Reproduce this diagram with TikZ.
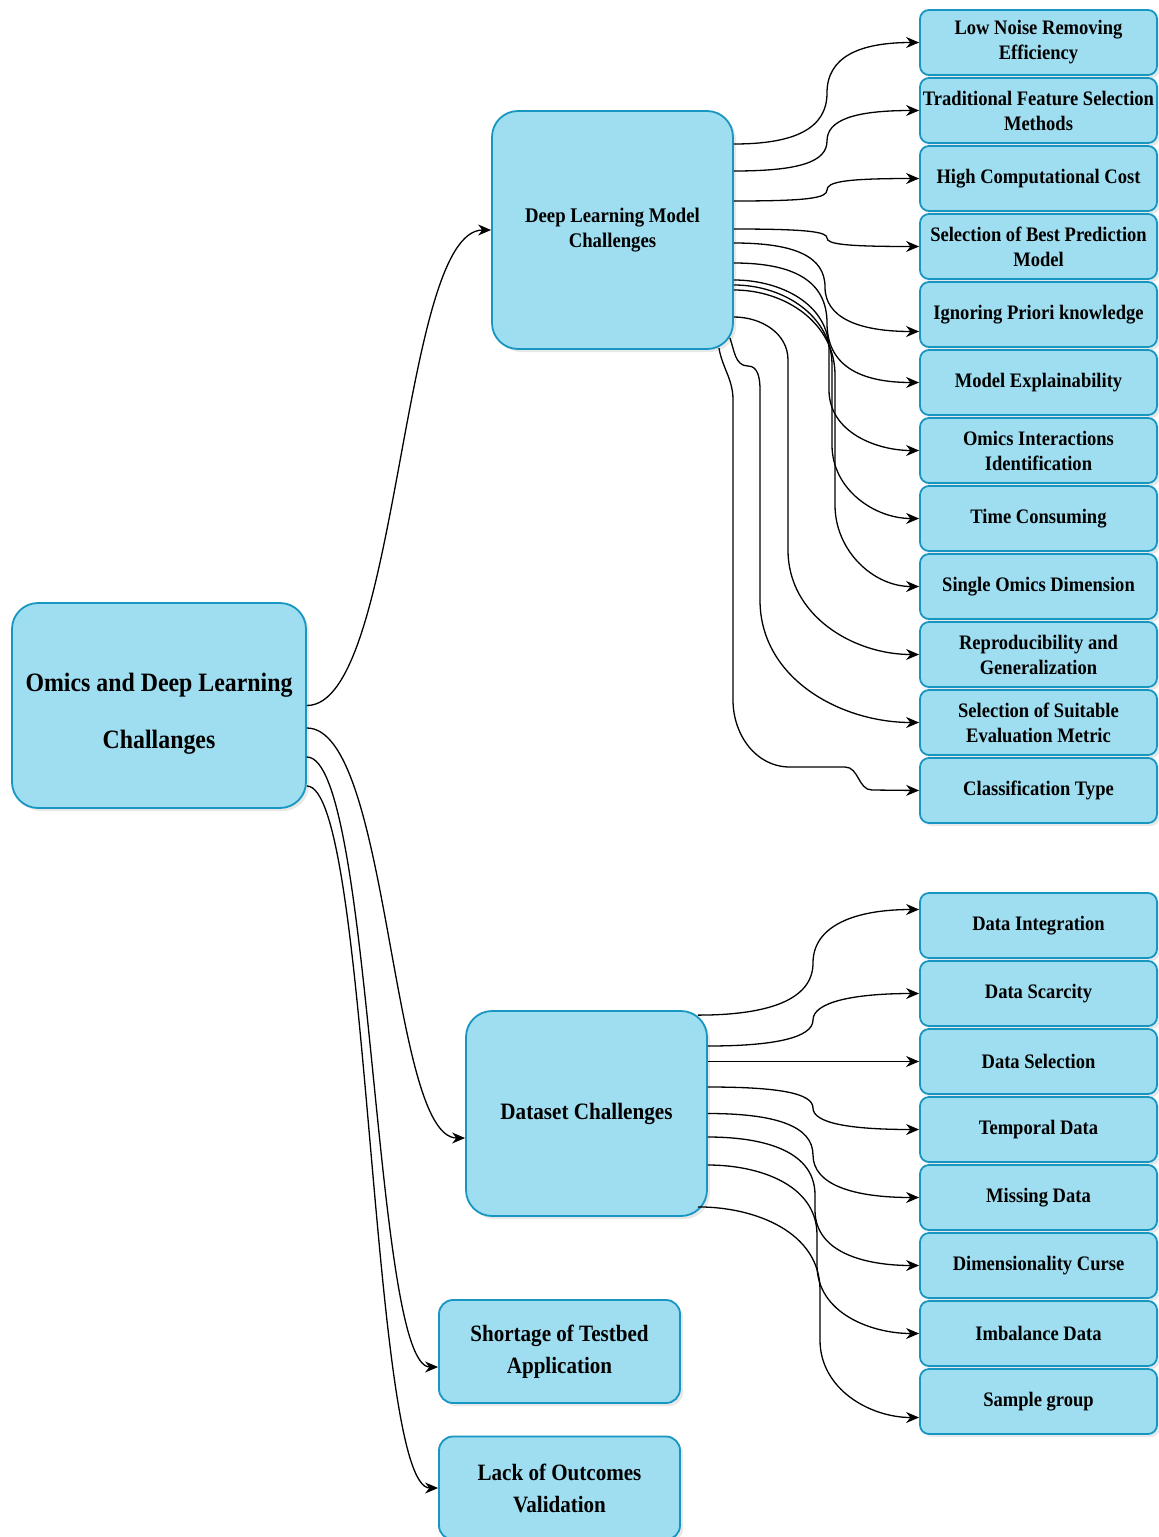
\documentclass[tikz,border=0pt]{standalone}
\usepackage{fontspec}
\setmainfont{Liberation Serif}[FakeStretch=0.9]
\usetikzlibrary{arrows.meta,calc,shadows}
\definecolor{boxfill}{RGB}{158,222,240}
\definecolor{boxline}{RGB}{22,150,192}

\begin{document}
\begin{tikzpicture}[x=1pt,y=-1pt,
    box/.style={draw=boxline, fill=boxfill, line width=1.8pt, align=center, inner sep=0pt,
        drop shadow={shadow xshift=3pt, shadow yshift=-3pt, opacity=0.18}},
    leaf/.style={box, rounded corners=9pt, minimum width=237pt, minimum height=65pt,
        font=\fontsize{20.6}{25}\selectfont\bfseries},
    hub/.style={box, rounded corners=26pt, minimum width=241pt},
    side/.style={box, rounded corners=14pt, minimum width=241pt, minimum height=103pt,
        font=\fontsize{23.4}{32}\selectfont\bfseries},
    link/.style={-{Stealth[length=13pt,width=11pt]}, line width=1.3pt}]
    \useasboundingbox (0,0) rectangle (1159,1537);

    \node[box, rounded corners=26pt, minimum width=294pt, minimum height=205pt,
        font=\fontsize{26.5}{57}\selectfont\bfseries] (root) at (159,705.5)
        {\rule{0pt}{34pt}Omics and Deep Learning\\Challanges};
    \node[hub, minimum height=238pt, font=\fontsize{20.8}{25}\selectfont\bfseries] (dl) at (612.5,230)
        {Deep Learning Model\\Challenges};
    \node[hub, minimum height=205pt, font=\fontsize{23.5}{28}\selectfont\bfseries] (ds) at (586.5,1113.5)
        {Dataset Challenges};
    \node[side] (short) at (559.5,1351.5) {Shortage of Testbed\\Application};
    \node[side] (lack) at (559.5,1488) {Lack of Outcomes\\Validation};

    \foreach \nm/\txt [count=\i from 0] in {low/{Low Noise Removing\\Efficiency},
        trad/{Traditional Feature Selection\\Methods}, cost/{High Computational Cost},
        best/{Selection of Best Prediction\\Model}, prior/{Ignoring Priori knowledge},
        expl/{Model Explainability}, inter/{Omics Interactions\\Identification},
        time/{Time Consuming}, single/{Single Omics Dimension},
        repro/{Reproducibility and\\Generalization},
        metric/{Selection of Suitable\\Evaluation Metric}, ctype/{Classification Type}} {
        \node[leaf] (\nm) at (1038.5,42.5+68*\i) {\txt};
    }
    \foreach \nm/\txt [count=\i from 0] in {integ/{Data Integration}, scarce/{Data Scarcity},
        dsel/{Data Selection}, temporal/{Temporal Data}, missing/{Missing Data},
        dimcurse/{Dimensionality Curse}, imbal/{Imbalance Data}, sample/{Sample group}} {
        \node[leaf] (\nm) at (1038.5,925.5+68*\i) {\txt};
    }

    % root to the four groups
    \draw[link] (root.east) .. controls (400,705.5) and (400,230) .. (dl.west);
    \draw[link] ($(root.east)+(0,22.5)$) .. controls (390,728) and (390,1138) .. ($(ds.west)+(0,24.5)$);
    \draw[link] ($(root.east)+(0,51.5)$) .. controls (373,757) and (373,1367) .. ($(short.west)+(0,15.5)$);
    \draw[link] ($(root.east)+(0,80.5)$) .. controls (370,786) and (370,1488) .. (lack.west);

    % deep learning model challenges
    \draw[link] ($(dl.east)+(0,-86)$) .. controls +(60,0) and +(0,36) .. (827,93)
        .. controls +(0,-36) and +(-60,0) .. (low.west);
    \draw[link] ($(dl.east)+(0,-59)$) .. controls +(65,0) and +(0,21) .. (827,141)
        .. controls +(0,-21) and +(-65,0) .. (trad.west);
    \draw[link] ($(dl.east)+(0,-29)$) .. controls +(75,0) and +(0,8) .. (827,190)
        .. controls +(0,-8) and +(-75,0) .. (cost.west);
    \draw[link] ($(dl.east)+(0,-1)$) .. controls +(75,0) and +(0,-6) .. (827,238)
        .. controls +(0,6) and +(-75,0) .. (best.west);
    \draw[link] ($(dl.east)+(0,13)$) .. controls +(60,0) and +(0,-31) .. (825,287)
        .. controls +(0,31) and +(-60,0) .. ($(prior.west)+(0,17)$);
    \draw[link] ($(dl.east)+(0,33)$) .. controls +(60,0) and +(0,-42) .. (827,323)
        .. controls +(0,42) and +(-60,0) .. (expl.west);
    \draw[link] ($(dl.east)+(0,50)$) to[out=0,in=90] (829,350) -- (829,390) to[out=-90,in=180] (inter.west);
    \draw[link] ($(dl.east)+(0,55)$) to[out=0,in=90] (832,365) -- (832,445) to[out=-90,in=180] (time.west);
    \draw[link] ($(dl.east)+(0,60)$) to[out=0,in=90] (835,375) -- (835,505) to[out=-90,in=180] (single.west);
    \draw[link] ($(dl.east)+(0,87)$) to[out=0,in=90] (788,360) -- (788,550) to[out=-90,in=180] (repro.west);
    \draw[link] ($(dl.south east)+(-4,-12)$) to[out=-70,in=180] (748,366) to[out=0,in=90] (760,390)
        -- (760,600) to[out=-90,in=180] (metric.west);
    \draw[link] ($(dl.south east)+(-15,-2)$) to[out=-80,in=90] (733,400) -- (733,700)
        to[out=-90,in=180] (790,767) -- (845,767) to[out=0,in=180] (872,790) -- (ctype.west);

    % dataset challenges
    \draw[link] ($(ds.north east)+(-10,5)$) .. controls +(70,0) and +(0,37) .. (813,963)
        .. controls +(0,-37) and +(-65,0) .. ($(integ.west)+(0,-16)$);
    \draw[link] ($(ds.east)+(0,-67.5)$) .. controls +(65,0) and +(0,18) .. (813,1020)
        .. controls +(0,-18) and +(-65,0) .. (scarce.west);
    \draw[link] ($(ds.east)+(0,-52)$) -- (dsel.west);
    \draw[link] ($(ds.east)+(0,-26.5)$) .. controls +(70,0) and +(0,-15) .. (813,1108)
        .. controls +(0,15) and +(-70,0) .. (temporal.west);
    \draw[link] (ds.east) .. controls +(65,0) and +(0,-30) .. (813,1155)
        .. controls +(0,30) and +(-65,0) .. (missing.west);
    \draw[link] ($(ds.east)+(0,23.5)$) to[out=0,in=90] (815,1195) -- (815,1210) to[out=-90,in=180] (dimcurse.west);
    \draw[link] ($(ds.east)+(0,51.5)$) to[out=0,in=90] (817,1235) -- (817,1265) to[out=-90,in=180] (imbal.west);
    \draw[link] ($(ds.south east)+(-10,-10)$) to[out=0,in=90] (820,1290) -- (820,1340) to[out=-90,in=180] ($(sample.west)+(0,16)$);
\end{tikzpicture}
\end{document}
